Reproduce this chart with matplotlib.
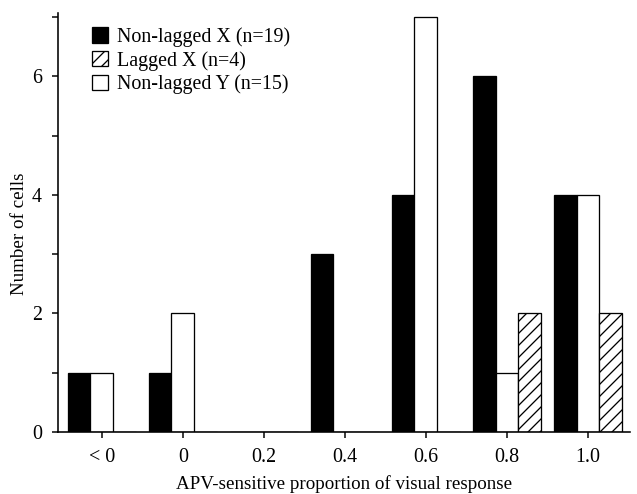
"""Histogram of APV-sensitive proportion of the visual response, by cell class."""

import matplotlib

matplotlib.use("Agg")
import matplotlib.pyplot as plt  # noqa: E402
import numpy as np  # noqa: E402
from matplotlib.patches import Patch  # noqa: E402
from matplotlib.ticker import MultipleLocator  # noqa: E402

categories = ["< 0", "0", "0.2", "0.4", "0.6", "0.8", "1.0"]
nonlagged_x = [1, 1, 0, 3, 4, 6, 4]
lagged_x = [0, 0, 0, 0, 0, 2, 2]
nonlagged_y = [1, 2, 0, 0, 7, 1, 4]

labels = ["Non-lagged X (n=19)", "Lagged X (n=4)", "Non-lagged Y (n=15)"]

plt.rcParams["font.family"] = ["Liberation Serif", "DejaVu Serif"]
plt.rcParams["hatch.linewidth"] = 1.3

# dpi 72: font sizes in pt equal pixels, '//' hatch gives ~12 px spacing
fig = plt.figure(figsize=(637 / 72, 494 / 72), dpi=72)
ax = fig.add_axes([58 / 637, 1 - 432 / 494, (630 - 58) / 637, (432 - 13) / 494])

x = np.arange(len(categories))
w = 0.28
edge = dict(edgecolor="black", linewidth=1.3)
ax.bar(x - w, nonlagged_x, w, color="black", **edge)
ax.bar(x, nonlagged_y, w, color="white", **edge)
ax.bar(x + w, lagged_x, w, color="white", hatch="//", **edge)

ax.set_xlim(-0.54, 6.52)
ax.set_ylim(0, 7.07)
ax.set_xticks(x)
ax.set_xticklabels(categories)
ax.yaxis.set_major_locator(MultipleLocator(2))
ax.yaxis.set_minor_locator(MultipleLocator(1))

for side in ("top", "right"):
    ax.spines[side].set_visible(False)
for side in ("left", "bottom"):
    ax.spines[side].set_linewidth(1.6)
ax.tick_params(direction="out", length=6, width=1.5, labelsize=20)
ax.tick_params(axis="x", pad=10)
ax.tick_params(axis="y", pad=10)
ax.tick_params(axis="y", which="minor", direction="out", length=6, width=1.5)

ax.set_ylabel("Number of cells", fontsize=19)
ax.yaxis.set_label_coords(-0.053, 0.473)
ax.set_xlabel("APV-sensitive proportion of visual response", fontsize=19, labelpad=8)

handles = [
    Patch(facecolor="black", edgecolor="black", linewidth=1.3),
    Patch(facecolor="white", edgecolor="black", hatch="//", linewidth=1.3),
    Patch(facecolor="white", edgecolor="black", linewidth=1.3),
]
ax.legend(handles, labels, loc="upper left", bbox_to_anchor=(0.038, 0.995),
          frameon=False, fontsize=20, handlelength=0.8, handleheight=0.8,
          handletextpad=0.45, labelspacing=0.2, borderaxespad=0.2)

fig.savefig("out.png", dpi=72)
